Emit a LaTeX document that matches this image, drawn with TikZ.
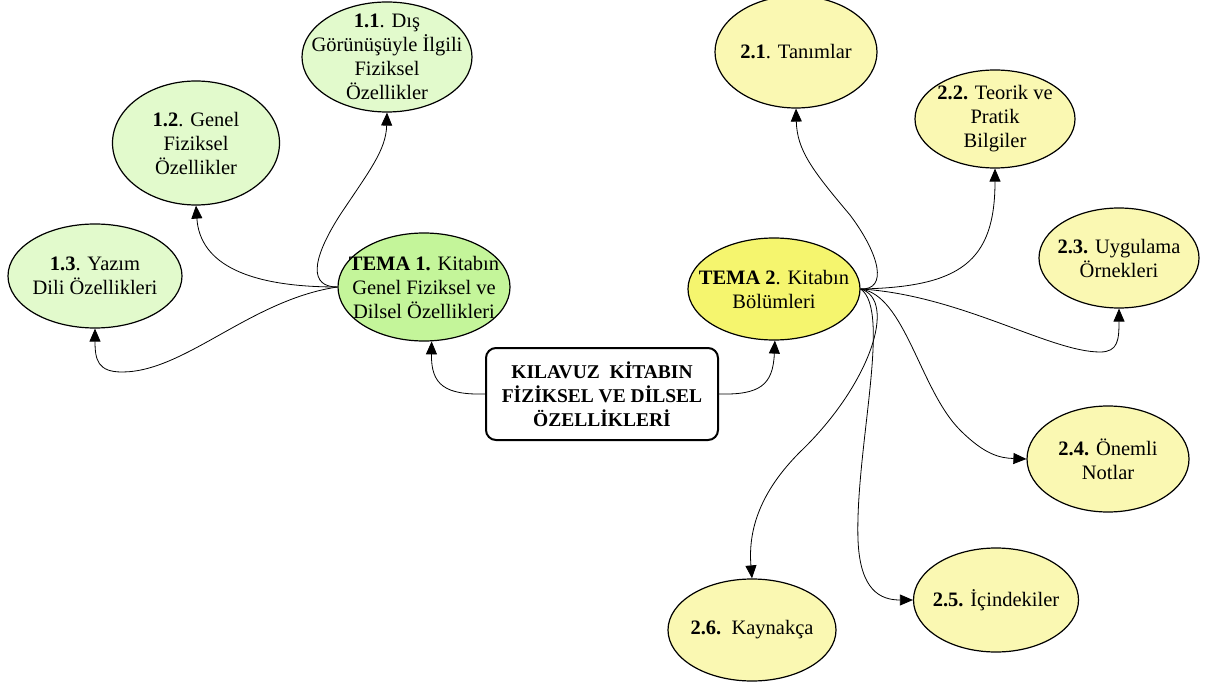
\documentclass[tikz,border=0pt]{standalone}
\usepackage{fontspec}
\setmainfont{Liberation Serif}
\usetikzlibrary{shapes.geometric,arrows.meta}
\definecolor{leafgreen}{RGB}{226,250,204}
\definecolor{themegreen}{RGB}{196,245,154}
\definecolor{themeyellow}{RGB}{245,245,110}
\definecolor{leafyellow}{RGB}{250,248,178}
\begin{document}
\begin{tikzpicture}[x=1pt,y=-1pt,
  % the ellipse keeps its own size; its text is a centred label on top
  bubble/.style={ellipse,draw=black,line width=1.2pt,inner sep=0pt},
  words/.style={label={[align=center,inner sep=0pt,font=\fontsize{20.5}{24}\selectfont]center:{#1}}},
  sub1/.style={bubble,fill=leafgreen},
  sub2/.style={bubble,fill=leafyellow},
  link/.style={line width=0.8pt,-{Triangle[length=13pt,width=11pt]}}]
\useasboundingbox (0,0) rectangle (1209,684);

% central box
\node[draw,line width=2pt,rounded corners=10pt,minimum width=232pt,minimum height=92pt,
  align=center,font=\fontsize{19.5}{24}\selectfont\bfseries] (root) at (602,394)
  {KILAVUZ\ \ KİTABIN\\FİZİKSEL VE DİLSEL\\ÖZELLİKLERİ};

% theme 1 and its branches
\node[bubble,fill=themegreen,minimum width=172pt,minimum height=108pt,
  words={\textbf{TEMA 1.} Kitabın\\Genel Fiziksel ve\\Dilsel Özellikleri}] (t1) at (424,287) {};
\node[sub1,minimum width=170pt,minimum height=110pt,
  words={\textbf{1.1}. Dış\\Görünüşüyle İlgili\\Fiziksel\\Özellikler}] (n11) at (387,57) {};
\node[sub1,minimum width=167pt,minimum height=124pt,
  words={\textbf{1.2}. Genel\\Fiziksel\\Özellikler}] (n12) at (196,143) {};
\node[sub1,minimum width=174pt,minimum height=104pt,
  words={\textbf{1.3}. Yazım\\Dili Özellikleri}] (n13) at (95,276) {};

% theme 2 and its branches
\node[bubble,fill=themeyellow,minimum width=172pt,minimum height=102pt,
  words={\textbf{TEMA 2}. Kitabın\\Bölümleri}] (t2) at (774,289) {};
\node[sub2,minimum width=162pt,minimum height=112pt,
  words={\textbf{2.1}. Tanımlar}] (n21) at (796,52) {};
\node[sub2,minimum width=160pt,minimum height=98pt,
  words={\textbf{2.2.} Teorik ve\\Pratik\\Bilgiler}] (n22) at (995,119) {};
\node[sub2,minimum width=160pt,minimum height=100pt,
  words={\textbf{2.3.} Uygulama\\Örnekleri}] (n23) at (1119,258) {};
\node[sub2,minimum width=162pt,minimum height=106pt,
  words={\textbf{2.4.} Önemli\\Notlar}] (n24) at (1108,459) {};
\node[sub2,minimum width=165pt,minimum height=104pt,
  words={\textbf{2.5.} İçindekiler}] (n25) at (996,600) {};
\node[sub2,minimum width=168pt,minimum height=102pt,
  words={\textbf{2.6.}\ \ Kaynakça}] (n26) at (752,630) {};

% connectors from the central box
\draw[link] (root.west) .. controls (445,395) and (431,385) .. (t1.-82);
\draw[link] (root.east) .. controls (760,395) and (773,385) .. (t2.-89);

% connectors of theme 1
\draw[link] (t1.west) .. controls (250,300) and (185,372) .. (122,372)
  .. controls (98,372) and (95,360) .. (n13.south);
\draw[link] (t1.west) .. controls (250,287) and (200,265) .. (n12.south);
\draw[link] (t1.west) .. controls (310,287) and (310,262) .. (340,215)
  .. controls (370,170) and (386,150) .. (n11.south);

% connectors of theme 2
\draw[link] (t2.east) .. controls (888,290) and (880,255) .. (850,215)
  .. controls (812,170) and (797,150) .. (n21.south);
\draw[link] (t2.east) .. controls (960,287) and (995,262) .. (n22.south);
\draw[link] (t2.east) .. controls (960,295) and (1050,352) .. (1100,352)
  .. controls (1118,352) and (1119,340) .. (n23.south);
\draw[link] (t2.east) .. controls (905,295) and (920,390) .. (960,430)
  .. controls (985,455) and (1000,458) .. (n24.west);
\draw[link] (t2.east) .. controls (892,310) and (855,450) .. (858,540)
  .. controls (860,590) and (880,600) .. (n25.west);
\draw[link] (t2.east) .. controls (898,300) and (870,385) .. (800,452)
  .. controls (760,492) and (748,530) .. (n26.north);
\end{tikzpicture}
\end{document}
